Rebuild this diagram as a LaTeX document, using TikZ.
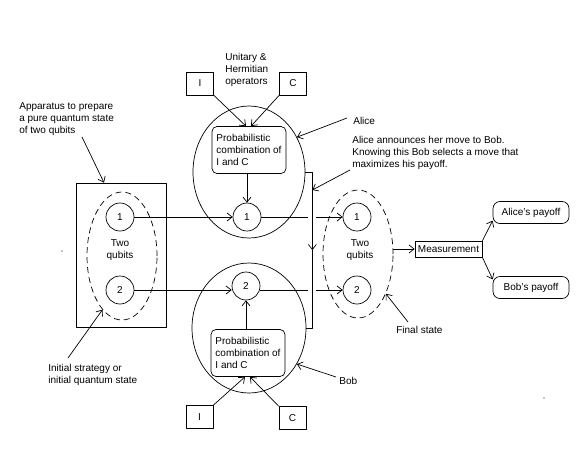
\documentclass[tikz,border=0pt]{standalone}
\usepackage{fontspec}
\setmainfont{Liberation Sans}
\usetikzlibrary{arrows.meta,shapes.geometric}
\begin{document}
\begin{tikzpicture}[x=1pt,y=-1pt,>={Straight Barb[length=5pt,width=8pt]},line join=round,line width=0.7pt,
	font=\fontsize{10}{12}\selectfont,
	qubit/.style={circle,draw,minimum size=28pt,inner sep=0pt},
	opbox/.style={draw,minimum width=27pt,minimum height=23pt,inner sep=0pt},
	combo/.style={draw,rounded corners=5pt,align=left,minimum width=74pt,minimum height=47pt,inner sep=3pt},
	payoff/.style={draw,rounded corners=7pt,minimum width=76pt,minimum height=22pt,inner sep=0pt},
	pair/.style={ellipse,draw,dash pattern=on 6pt off 4pt,minimum width=70pt,minimum height=128pt,inner sep=0pt},
	player/.style={ellipse,draw,inner sep=0pt},
	note/.style={align=left,inner sep=0pt,anchor=base west}]
	\useasboundingbox (0,0) rectangle (585,448);
	% initial state
	\node[draw,minimum width=90pt,minimum height=144pt] (app) at (121,255) {};
	\node[pair] (init) at (122,256) {};
	\node[qubit] (i1) at (120,217) {1};
	\node[qubit] (i2) at (120,290) {2};
	\node[align=center] (itxt) at (120,250) {Two\\qubits};
	% Alice
	\node[player,minimum width=112pt,minimum height=132pt] (alice) at (249,172) {};
	\node[combo] (acomb) at (249,150) {Probabilistic\\combination of\\I and C};
	\node[qubit] (a1) at (247,217) {1};
	\node[opbox] (aI) at (200,83.5) {I};
	\node[opbox] (aC) at (293,83.5) {C};
	\node[note] (ops) at (225,84) {Unitary \&\\Hermitian\\operators};
	% Bob
	\node[player,minimum width=114pt,minimum height=130pt] (bob) at (249,328) {};
	\node[combo] (bcomb) at (248,353) {Probabilistic\\combination of\\I and C};
	\node[qubit] (b2) at (246,286) {2};
	\node[opbox] (bI) at (199.5,417) {I};
	\node[opbox] (bC) at (292.5,418) {C};
	% final state and payoffs
	\node[pair] (fin) at (358,254) {};
	\node[qubit] (f1) at (357,217) {1};
	\node[qubit] (f2) at (357,290) {2};
	\node[align=center] (ftxt) at (360,250) {Two\\qubits};
	\node[draw,inner xsep=3pt,minimum height=16pt] (meas) at (448.5,249) {Measurement};
	\node[payoff] (ap) at (531,212.5) {Alice's payoff};
	\node[payoff] (bp) at (531,287.5) {Bob's payoff};
	% labels (base = last line)
	\node[note] (appnote) at (19,133) {Apparatus to prepare\\a pure quantum state\\of two qubits};
	\node[note] (initnote) at (48,383) {Initial strategy or\\initial quantum state};
	\node[note] (alicenote) at (353,124) {Alice};
	\node[note] (movenote) at (352,167) {Alice announces her move to Bob.\\Knowing this Bob selects a move that\\maximizes his payoff.};
	\node[note] (bobnote) at (339,384) {Bob};
	\node[note] (finnote) at (396,333) {Final state};
	\path
	(82,137) coordinate (apptail)
	(68,358) coordinate (inittail)
	(347,118) coordinate (alicetail)
	(350,170) coordinate (movetail)
	(336,377) coordinate (bobtail)
	(408,322) coordinate (fintail)
	(alice.east) ++(7,0) coordinate (vt)
	(bob.east) ++(6,0) coordinate (vb)
	(vt) -- coordinate (vm) (vb)
	(vt) ++(0,18) coordinate (vhit)
	;
	% qubit lines
	\draw[->] (i1) -- (a1);
	\draw[->] (a1) -- (f1);
	\draw[->] (i2) -- (b2.west |- i2);
	\draw[->] (b2.east |- i2) -- (f2);
	% Alice tells Bob
	\draw[white,line width=8pt] (vt) -- (vb);
	\draw[->] (alice.east) -- (vt) -- (vm);
	\draw (vm) -- (vb) -- (bob.east);
	% operators
	\draw[->] (aI.south east) -- ([xshift=-3pt]acomb.north);
	\draw[->] (aC.south west) -- ([xshift=2pt]acomb.north);
	\draw[->] (acomb.south -| a1) -- (a1);
	\draw[->] (bcomb.north -| b2) -- (b2);
	\draw[->] (bI.north east) -- ([xshift=-3pt]bcomb.south);
	\draw[->] (bC.north west) -- ([xshift=2pt]bcomb.south);
	% measurement
	\draw[->] (fin.east |- meas) -- (meas);
	\draw[->] (meas.north east) -- (ap.192);
	\draw[->] (meas.south east) -- (bp.168);
	% pointers
	\draw[->] (apptail) -- ([xshift=-17pt]app.north);
	\draw[->] (inittail) -- (init.250);
	\draw[->] (alicetail) -- (alice.36);
	\draw[->] (movetail) -- (vhit);
	\draw[->] (bobtail) -- (bob.-37);
	\draw[->] (fintail) -- (fin.-55);
	\foreach \p in {(62,251),(544,398)}\fill \p circle (0.6);
\end{tikzpicture}
\end{document}
